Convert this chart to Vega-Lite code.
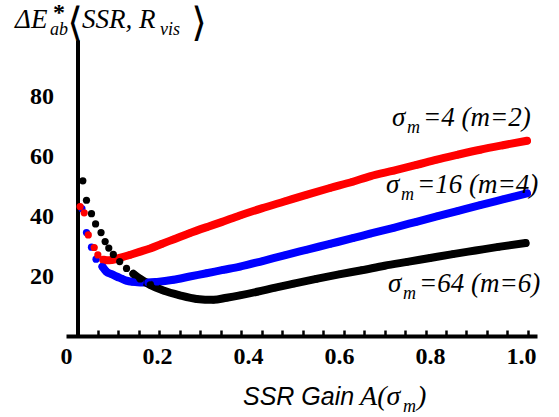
{
 "$schema": "https://vega.github.io/schema/vega-lite/v6.json",
 "width": 471, "height": 296,
 "autosize": {"type": "none"},
 "padding": {"left": 66, "top": 40, "right": 22, "bottom": 81},
 "background": "white",
 "config": {"view": {"stroke": null}, "axis": {"grid": false}},
 "resolve": {"axis": {"x": "independent"}},
 "datasets": {
  "pts": [
   {"s":"b","x":0.035,"y":42.6},{"s":"b","x":0.045,"y":34.6},{"s":"b","x":0.056,"y":29.7},{"s":"b","x":0.066,"y":25.7},{"s":"b","x":0.08,"y":23.2},{"s":"b","x":0.089,"y":21.5},{"s":"b","x":0.1,"y":20.7},{"s":"b","x":0.111,"y":19.9},{"s":"b","x":0.122,"y":19.2},{"s":"b","x":0.133,"y":18.5},{"s":"b","x":0.148,"y":18.1},{"s":"b","x":0.163,"y":17.9},{"s":"b","x":0.18,"y":17.9},{"s":"b","x":0.2,"y":18.1},{"s":"b","x":0.236,"y":18.8},{"s":"b","x":0.272,"y":19.9},{"s":"b","x":0.309,"y":21.0},{"s":"b","x":0.345,"y":22.1},{"s":"b","x":0.382,"y":23.2},{"s":"b","x":0.43,"y":25.0},{"s":"b","x":0.48,"y":27.0},{"s":"b","x":0.53,"y":28.9},{"s":"b","x":0.58,"y":30.8},{"s":"b","x":0.63,"y":32.7},{"s":"b","x":0.668,"y":34.2},{"s":"b","x":0.72,"y":36.2},{"s":"b","x":0.77,"y":38.2},{"s":"b","x":0.815,"y":40.0},{"s":"b","x":0.86,"y":41.8},{"s":"b","x":0.91,"y":43.8},{"s":"b","x":0.96,"y":45.7},{"s":"b","x":1.013,"y":47.7},
   {"s":"r","x":0.031,"y":43.3},{"s":"r","x":0.04,"y":41.2},{"s":"r","x":0.049,"y":33.8},{"s":"r","x":0.062,"y":29.6},{"s":"r","x":0.07,"y":27.1},{"s":"r","x":0.082,"y":25.5},{"s":"r","x":0.09,"y":25.3},{"s":"r","x":0.1,"y":25.4},{"s":"r","x":0.12,"y":26.2},{"s":"r","x":0.14,"y":27.1},{"s":"r","x":0.163,"y":28.2},{"s":"r","x":0.185,"y":29.3},{"s":"r","x":0.21,"y":30.8},{"s":"r","x":0.236,"y":32.3},{"s":"r","x":0.27,"y":34.3},{"s":"r","x":0.309,"y":36.4},{"s":"r","x":0.34,"y":38.0},{"s":"r","x":0.382,"y":40.3},{"s":"r","x":0.43,"y":42.7},{"s":"r","x":0.48,"y":45.0},{"s":"r","x":0.53,"y":47.3},{"s":"r","x":0.58,"y":49.5},{"s":"r","x":0.63,"y":51.6},{"s":"r","x":0.668,"y":53.4},{"s":"r","x":0.72,"y":55.3},{"s":"r","x":0.77,"y":57.2},{"s":"r","x":0.815,"y":59.0},{"s":"r","x":0.86,"y":60.6},{"s":"r","x":0.91,"y":62.3},{"s":"r","x":0.96,"y":63.8},{"s":"r","x":1.013,"y":65.3},
   {"s":"k","x":0.037,"y":51.9},{"s":"k","x":0.045,"y":45.4},{"s":"k","x":0.056,"y":40.9},{"s":"k","x":0.065,"y":37.5},{"s":"k","x":0.077,"y":34.6},{"s":"k","x":0.086,"y":31.6},{"s":"k","x":0.094,"y":29.4},{"s":"k","x":0.104,"y":27.3},{"s":"k","x":0.118,"y":24.9},{"s":"k","x":0.133,"y":22.6},{"s":"k","x":0.148,"y":20.8},{"s":"k","x":0.163,"y":19.1},{"s":"k","x":0.185,"y":17.1},{"s":"k","x":0.214,"y":15.2},{"s":"k","x":0.25,"y":13.6},{"s":"k","x":0.287,"y":12.4},{"s":"k","x":0.324,"y":12.1},{"s":"k","x":0.353,"y":12.8},{"s":"k","x":0.382,"y":13.6},{"s":"k","x":0.42,"y":14.8},{"s":"k","x":0.46,"y":16.2},{"s":"k","x":0.5,"y":17.5},{"s":"k","x":0.55,"y":19.1},{"s":"k","x":0.6,"y":20.6},{"s":"k","x":0.65,"y":22.0},{"s":"k","x":0.7,"y":23.5},{"s":"k","x":0.75,"y":24.8},{"s":"k","x":0.8,"y":26.1},{"s":"k","x":0.85,"y":27.4},{"s":"k","x":0.9,"y":28.6},{"s":"k","x":0.95,"y":29.8},{"s":"k","x":1.01,"y":31.1}
  ]
 },
 "layer": [
  {
   "data": {"name": "pts"},
   "transform": [{"filter": "datum.x >= 0.079 && (datum.s != 'k' || datum.x >= 0.14)"}],
   "mark": {"type": "line", "strokeWidth": 8, "strokeCap": "round", "strokeJoin": "round", "interpolate": "monotone"},
   "encoding": {
    "x": {"field": "x", "type": "quantitative", "scale": {"domain": [0, 1.035], "nice": false, "zero": false},
     "axis": {"orient": "bottom", "values": [0, 0.2, 0.4, 0.6, 0.8, 1.0], "labelExpr": "datum.value == 0 ? '0' : format(datum.value, '.1f')", "ticks": false, "domain": true, "domainColor": "#000", "domainWidth": 4, "labelFont": "Liberation Serif", "labelFontWeight": "bold", "labelFontSize": 24, "labelColor": "#000", "labelPadding": 8, "title": null, "grid": false, "labelFlush": false, "labelOverlap": false}},
    "y": {"field": "y", "type": "quantitative", "scale": {"domain": [0, 99], "nice": false},
     "axis": {"values": [20, 40, 60, 80], "ticks": false, "domain": true, "domainColor": "#000", "domainWidth": 4, "offset": -11.5, "labelFont": "Liberation Serif", "labelFontWeight": "bold", "labelFontSize": 24, "labelColor": "#000", "labelPadding": 24, "title": null, "grid": false}},
    "color": {"field": "s", "type": "nominal", "scale": {"domain": ["b", "r", "k"], "range": ["#0000ff", "#ff0000", "#000000"]}, "legend": null}
   }
  },
  {
   "data": {"name": "pts"},
   "mark": {"type": "circle", "size": 52, "opacity": 1},
   "encoding": {
    "x": {"field": "x", "type": "quantitative",
     "axis": {"orient": "bottom", "values": [0.025, 0.07, 0.115, 0.16, 0.205, 0.25, 0.295, 0.34, 0.385, 0.43, 0.475, 0.52, 0.565, 0.61, 0.655, 0.7, 0.745, 0.79, 0.835, 0.88, 0.925, 0.97, 1.015], "labels": false, "domain": false, "ticks": true, "tickSize": -6, "tickWidth": 2.5, "tickColor": "#000", "title": null, "grid": false}},
    "y": {"field": "y", "type": "quantitative"},
    "color": {"field": "s", "type": "nominal", "legend": null}
   }
  },
  {"data": {"values": [{}]}, "mark": {"type": "text", "text": "ΔE", "align": "left", "baseline": "alphabetic", "font": "Liberation Serif", "fontStyle": "italic", "fontSize": 27, "color": "#000"}, "encoding": {"x": {"datum": -0.112, "axis": null}, "y": {"datum": 102.85}}},
  {"data": {"values": [{}]}, "mark": {"type": "text", "text": "*", "align": "left", "baseline": "alphabetic", "font": "Liberation Serif", "fontWeight": "bold", "fontSize": 24, "color": "#000"}, "encoding": {"x": {"datum": -0.0286, "axis": null}, "y": {"datum": 105.6}}},
  {"data": {"values": [{}]}, "mark": {"type": "text", "text": "ab", "align": "left", "baseline": "alphabetic", "font": "Liberation Serif", "fontStyle": "italic", "fontSize": 18, "color": "#000"}, "encoding": {"x": {"datum": -0.0352, "axis": null}, "y": {"datum": 100.8}}},
  {"data": {"values": [{}]}, "mark": {"type": "text", "text": "⟨", "align": "center", "baseline": "middle", "font": "DejaVu Serif", "fontSize": 40, "color": "#000"}, "encoding": {"x": {"datum": 0.0198, "axis": null}, "y": {"datum": 104.2}}},
  {"data": {"values": [{}]}, "mark": {"type": "text", "text": "SSR, R", "align": "left", "baseline": "alphabetic", "font": "Liberation Serif", "fontStyle": "italic", "fontSize": 27, "color": "#000"}, "encoding": {"x": {"datum": 0.0352, "axis": null}, "y": {"datum": 102.85}}},
  {"data": {"values": [{}]}, "mark": {"type": "text", "text": "vis", "align": "left", "baseline": "alphabetic", "font": "Liberation Serif", "fontStyle": "italic", "fontSize": 18, "color": "#000"}, "encoding": {"x": {"datum": 0.2066, "axis": null}, "y": {"datum": 100.8}}},
  {"data": {"values": [{}]}, "mark": {"type": "text", "text": "⟩", "align": "center", "baseline": "middle", "font": "DejaVu Serif", "fontSize": 40, "color": "#000"}, "encoding": {"x": {"datum": 0.2923, "axis": null}, "y": {"datum": 104.2}}},
  {"data": {"values": [{}]}, "mark": {"type": "text", "text": "σ", "align": "left", "baseline": "alphabetic", "font": "Liberation Serif", "fontStyle": "italic", "fontSize": 27, "color": "#000"}, "encoding": {"x": {"datum": 0.7165, "axis": null}, "y": {"datum": 70.35}}},
  {"data": {"values": [{}]}, "mark": {"type": "text", "text": "m", "align": "left", "baseline": "alphabetic", "font": "Liberation Serif", "fontStyle": "italic", "fontSize": 18, "color": "#000"}, "encoding": {"x": {"datum": 0.7495, "axis": null}, "y": {"datum": 68.0}}},
  {"data": {"values": [{}]}, "mark": {"type": "text", "text": "=4 (m=2)", "align": "left", "baseline": "alphabetic", "font": "Liberation Serif", "fontStyle": "italic", "fontSize": 27, "color": "#000"}, "encoding": {"x": {"datum": 0.7846, "axis": null}, "y": {"datum": 70.35}}},
  {"data": {"values": [{}]}, "mark": {"type": "text", "text": "σ", "align": "left", "baseline": "alphabetic", "font": "Liberation Serif", "fontStyle": "italic", "fontSize": 27, "color": "#000"}, "encoding": {"x": {"datum": 0.7033, "axis": null}, "y": {"datum": 47.9}}},
  {"data": {"values": [{}]}, "mark": {"type": "text", "text": "m", "align": "left", "baseline": "alphabetic", "font": "Liberation Serif", "fontStyle": "italic", "fontSize": 18, "color": "#000"}, "encoding": {"x": {"datum": 0.7363, "axis": null}, "y": {"datum": 45.6}}},
  {"data": {"values": [{}]}, "mark": {"type": "text", "text": "=16 (m=4)", "align": "left", "baseline": "alphabetic", "font": "Liberation Serif", "fontStyle": "italic", "fontSize": 27, "color": "#000"}, "encoding": {"x": {"datum": 0.7714, "axis": null}, "y": {"datum": 47.9}}},
  {"data": {"values": [{}]}, "mark": {"type": "text", "text": "σ", "align": "left", "baseline": "alphabetic", "font": "Liberation Serif", "fontStyle": "italic", "fontSize": 27, "color": "#000"}, "encoding": {"x": {"datum": 0.7077, "axis": null}, "y": {"datum": 14.74}}},
  {"data": {"values": [{}]}, "mark": {"type": "text", "text": "m", "align": "left", "baseline": "alphabetic", "font": "Liberation Serif", "fontStyle": "italic", "fontSize": 18, "color": "#000"}, "encoding": {"x": {"datum": 0.7407, "axis": null}, "y": {"datum": 12.4}}},
  {"data": {"values": [{}]}, "mark": {"type": "text", "text": "=64 (m=6)", "align": "left", "baseline": "alphabetic", "font": "Liberation Serif", "fontStyle": "italic", "fontSize": 27, "color": "#000"}, "encoding": {"x": {"datum": 0.7758, "axis": null}, "y": {"datum": 14.74}}},
  {"data": {"values": [{}]}, "mark": {"type": "text", "text": "SSR Gain", "align": "left", "baseline": "alphabetic", "font": "Liberation Sans", "fontStyle": "italic", "fontSize": 25, "color": "#000"}, "encoding": {"x": {"datum": 0.389, "axis": null}, "y": {"datum": -23.1}}},
  {"data": {"values": [{}]}, "mark": {"type": "text", "text": "A(σ", "align": "left", "baseline": "alphabetic", "font": "Liberation Serif", "fontStyle": "italic", "fontSize": 28, "color": "#000"}, "encoding": {"x": {"datum": 0.6462, "axis": null}, "y": {"datum": -23.1}}},
  {"data": {"values": [{}]}, "mark": {"type": "text", "text": "m", "align": "left", "baseline": "alphabetic", "font": "Liberation Serif", "fontStyle": "italic", "fontSize": 18, "color": "#000"}, "encoding": {"x": {"datum": 0.7407, "axis": null}, "y": {"datum": -25.46}}},
  {"data": {"values": [{}]}, "mark": {"type": "text", "text": ")", "align": "left", "baseline": "alphabetic", "font": "Liberation Serif", "fontStyle": "italic", "fontSize": 28, "color": "#000"}, "encoding": {"x": {"datum": 0.7714, "axis": null}, "y": {"datum": -23.1}}}
 ]
}
